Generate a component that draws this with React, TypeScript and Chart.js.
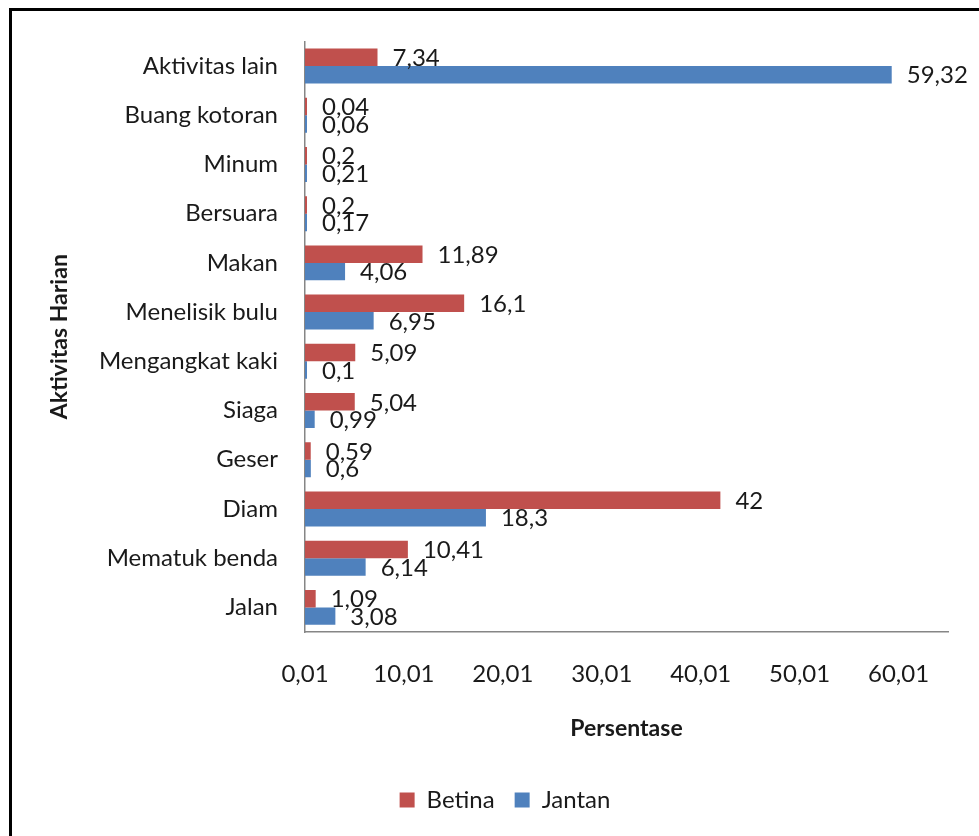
import React, { useEffect, useRef } from "react";
import { Chart, registerables } from "chart.js";

Chart.register(...registerables);

const categories = [
  "Aktivitas lain",
  "Buang kotoran",
  "Minum",
  "Bersuara",
  "Makan",
  "Menelisik bulu",
  "Mengangkat kaki",
  "Siaga",
  "Geser",
  "Diam",
  "Mematuk benda",
  "Jalan",
];
const betina = [7.34, 0.04, 0.2, 0.2, 11.89, 16.1, 5.09, 5.04, 0.59, 42, 10.41, 1.09];
const jantan = [59.32, 0.06, 0.21, 0.17, 4.06, 6.95, 0.1, 0.99, 0.6, 18.3, 6.14, 3.08];
const tickValues = [0.01, 10.01, 20.01, 30.01, 40.01, 50.01, 60.01];
const tickLabels = ["0,01", "10,01", "20,01", "30,01", "40,01", "50,01", "60,01"];
const axisMin = 0.01;
const axisMax = 65.01;

const FONT = "Lato";
const TEXT = "#1a1a1a";

const valueLabels = {
  id: "valueLabels",
  afterDatasetsDraw(chart: any) {
    const ctx = chart.ctx;
    ctx.save();
    ctx.font = `24px ${FONT}`;
    ctx.fillStyle = TEXT;
    ctx.textAlign = "left";
    ctx.textBaseline = "middle";
    chart.data.datasets.forEach((ds: any, di: number) => {
      const meta = chart.getDatasetMeta(di);
      meta.data.forEach((el: any, i: number) => {
        const v = ds.data[i];
        ctx.fillText(String(v).replace(".", ","), el.x + 15, el.y + 1);
      });
    });
    ctx.restore();
  },
};

export default function App() {
  const ref = useRef<HTMLCanvasElement | null>(null);

  useEffect(() => {
    if (!ref.current) return;
    const chart = new Chart(ref.current, {
      type: "bar",
      data: {
        labels: categories,
        datasets: [
          {
            label: "Betina",
            data: betina,
            backgroundColor: "#C0504D",
            categoryPercentage: 0.71,
            barPercentage: 1,
            minBarLength: 2,
          },
          {
            label: "Jantan",
            data: jantan,
            backgroundColor: "#4F81BD",
            categoryPercentage: 0.71,
            barPercentage: 1,
            minBarLength: 2,
          },
        ],
      },
      options: {
        indexAxis: "y",
        responsive: false,
        animation: false,
        devicePixelRatio: 1,
        layout: { padding: { left: 62, right: 31, top: 37, bottom: 14 } },
        plugins: {
          tooltip: { enabled: false },
          legend: {
            position: "bottom",
            labels: {
              boxWidth: 15,
              boxHeight: 15,
              padding: 20,
              color: TEXT,
              font: { family: FONT, size: 24 },
            },
          },
        },
        scales: {
          x: {
            type: "linear",
            min: axisMin,
            max: axisMax,
            afterBuildTicks: (s: any) => {
              s.ticks = tickValues.map((v) => ({ value: v }));
            },
            afterFit: (s: any) => {
              s.height = 136;
            },
            ticks: {
              autoSkip: false,
              maxRotation: 0,
              padding: 28,
              color: TEXT,
              font: { family: FONT, size: 24 },
              callback: (_v: any, i: number) => tickLabels[i],
            },
            grid: { display: false, drawTicks: false },
            border: { display: true, color: "#868686", width: 1.5 },
            title: {
              display: true,
              text: "Persentase",
              color: TEXT,
              font: { family: FONT, size: 23, weight: "bold" },
              padding: { top: 0, bottom: 26 },
            },
          },
          y: {
            type: "category",
            afterFit: (s: any) => {
              s.width = 243;
            },
            ticks: {
              autoSkip: false,
              padding: 27,
              color: TEXT,
              font: { family: FONT, size: 24 },
            },
            grid: { display: false, drawTicks: false },
            border: { display: true, color: "#868686", width: 1.5 },
            title: {
              display: true,
              text: "Aktivitas Harian",
              color: TEXT,
              font: { family: FONT, size: 23, weight: "bold" },
              padding: { top: -15.8, bottom: 0 },
            },
          },
        },
      },
      plugins: [valueLabels],
    } as any);
    return () => chart.destroy();
  }, []);

  return (
    <div style={{ position: "fixed", left: 0, top: 0, width: 979, height: 836, background: "#fff" }}>
      <div
        style={{
          position: "absolute",
          left: 9,
          top: 8,
          width: 970,
          height: 828,
          borderLeft: "3px solid #000",
          borderTop: "3px solid #000",
          boxSizing: "border-box",
        }}
      />
      <canvas ref={ref} width={979} height={836} style={{ position: "absolute", left: 0, top: 0 }} />
    </div>
  );
}
